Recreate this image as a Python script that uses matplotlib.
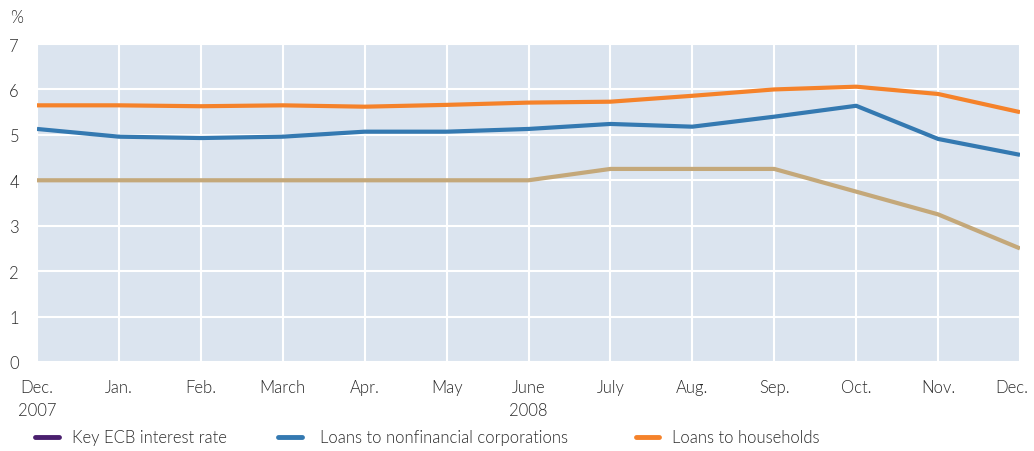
import matplotlib
matplotlib.use("Agg")
import matplotlib.pyplot as plt
from matplotlib.lines import Line2D
from matplotlib.transforms import ScaledTranslation

months = ["Dec.\n2007", "Jan.", "Feb.", "March", "Apr.", "May", "June\n2008",
          "July", "Aug.", "Sep.", "Oct.", "Nov.", "Dec."]
key_ecb_rate = [4.0, 4.0, 4.0, 4.0, 4.0, 4.0, 4.0, 4.25, 4.25, 4.25, 3.75, 3.25, 2.5]
loans_corporations = [5.13, 4.96, 4.93, 4.96, 5.07, 5.07, 5.13, 5.24, 5.18, 5.40, 5.64, 4.91, 4.56]
loans_households = [5.65, 5.65, 5.63, 5.65, 5.62, 5.66, 5.71, 5.73, 5.86, 6.00, 6.06, 5.90, 5.50]
y_ticks = [0, 1, 2, 3, 4, 5, 6, 7]

series_labels = ["Key ECB interest rate", "Loans to nonfinancial corporations", "Loans to households"]
legend_colors = ["#4a1f6e", "#3479b1", "#f5822a"]

plt.rcParams['font.family'] = ['Lato', 'DejaVu Sans']
plt.rcParams['font.weight'] = 300
text_color = "#2a2a2a"

W, H = 1034, 452
fig = plt.figure(figsize=(W / 100, H / 100), dpi=100)
ax = fig.add_axes([37/W, 1 - 363/H, (1020 - 37)/W, (363 - 45)/H])
ax.set_facecolor("#dbe4ef")

x = list(range(len(months)))
ax.plot(x, key_ecb_rate, color="#c4a87a", lw=3.0, solid_capstyle="butt", zorder=3)
ax.plot(x, loans_corporations, color="#3479b1", lw=3.0, solid_capstyle="butt", zorder=4)
ax.plot(x, loans_households, color="#f5822a", lw=3.0, solid_capstyle="butt", zorder=5)

ax.set_xlim(0, len(months) - 1)
ax.set_ylim(0, 7)
ax.set_xticks(x)
ax.set_xticklabels(months, fontsize=12, color=text_color, linespacing=1.6)
ax.set_yticks(y_ticks)
ax.set_yticklabels([str(v) for v in y_ticks], fontsize=12, color=text_color)
ax.tick_params(axis="both", length=0)
ax.tick_params(axis="x", pad=12)
ax.tick_params(axis="y", pad=13)
# keep the final month label inside the figure
last = ax.get_xticklabels()[-1]
last.set_transform(last.get_transform() + ScaledTranslation(-8/100, 0, fig.dpi_scale_trans))

ax.grid(True, color="white", lw=1.5)
ax.set_axisbelow(True)
for s in ax.spines.values():
    s.set_visible(False)

fig.text(10/W, 1 - 18/H, "%", fontsize=12, color=text_color, va="center", ha="left")

# legend drawn as figure artists
handle_x = [(35, 59), (278, 302), (636, 659)]
text_x = [72, 320, 672]
ly = 1 - 438/H
for (x0, x1), tx, c, lab in zip(handle_x, text_x, legend_colors, series_labels):
    fig.add_artist(Line2D([x0/W, x1/W], [ly, ly], transform=fig.transFigure,
                          color=c, lw=3.5, solid_capstyle="round"))
    fig.text(tx/W, ly, lab, fontsize=12, color=text_color, va="center", ha="left")

fig.savefig("out.png", dpi=100)
